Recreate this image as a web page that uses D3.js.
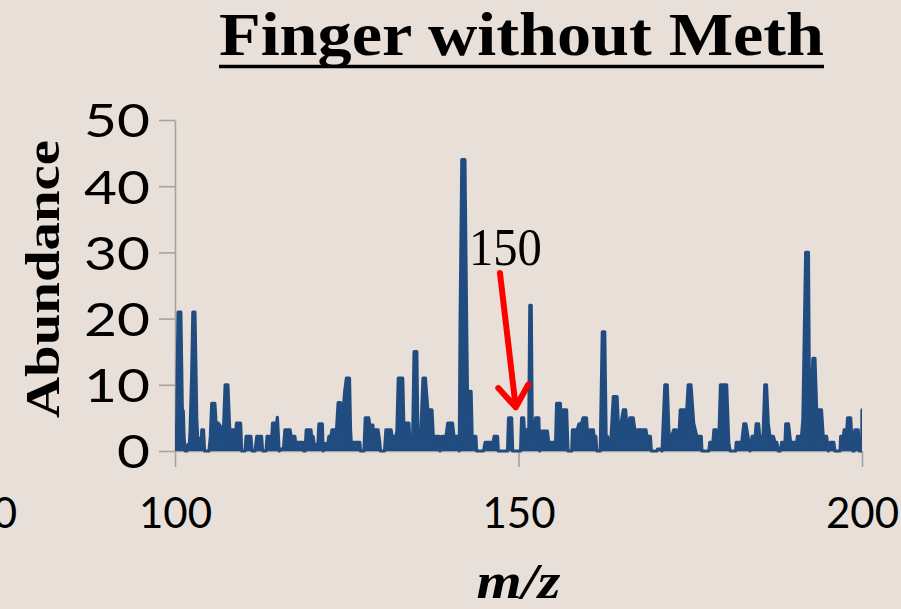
<!DOCTYPE html>
<html>
<head>
<meta charset="utf-8">
<script src="https://cdn.jsdelivr.net/npm/d3@7/dist/d3.min.js"></script>
<style>
  html, body { margin: 0; padding: 0; background: #e8e0d8; }
  svg { display: block; }
</style>
</head>
<body>
<div id="chart"></div>
<script>
'use strict';

/* Data */

var title = 'Finger without Meth'
var xLabel = 'm/z'
var yLabel = 'Abundance'

var xTicks = [100, 150, 200]
var yTicks = [0, 10, 20, 30, 40, 50]

// peak callout: label position and arrow, in data units (m/z, abundance)
var calloutText = '150'
var calloutLabel = [148.1, 28.1]
var calloutArrow = [[147.3, 26.9], [149.6, 6.6]]

// spectrum: [m/z, abundance]
var spectrum = [
  [100.00, 0.5], [100.05, 4], [100.25, 4], [100.33, 12], [100.45, 21], [100.85, 21], [100.98, 12],
  [101.06, 6.3], [101.21, 6], [101.31, 2.3], [101.46, 0], [101.75, 0], [101.89, 1], [102.05, 0.5],
  [102.18, 2.5], [102.43, 11.5], [102.6, 21], [102.9, 21], [103.01, 14.5], [103.16, 5], [103.3, 2],
  [103.4, 0.8], [103.5, 1.9], [103.7, 1.9], [103.8, 0.5], [103.9, 3.2], [104.15, 3.2], [104.3, 0],
  [104.95, 0], [105.15, 2.2], [105.35, 7.2], [105.8, 7.2], [105.95, 4.7], [106.1, 3], [106.3, 4.2],
  [106.5, 3.9], [106.8, 3.4], [107.0, 1.7], [107.3, 10], [107.7, 10], [107.9, 4.7], [108.1, 0.6],
  [108.3, 3.2], [108.55, 3.2], [108.75, 1.4], [108.95, 4.2], [109.55, 4.2], [109.7, 0],
  [110.2, 0], [110.35, 2.2], [111.05, 2.2], [111.2, 0], [111.65, 0], [111.9, 2.2], [112.6, 2.2],
  [112.75, 0], [113.25, 0], [113.4, 2.2], [114.1, 2.2], [114.2, 4.2], [114.8, 4.2], [114.9, 5.1],
  [115.05, 2.2], [115.15, 0], [115.8, 0.5], [116.0, 3.2], [116.75, 3.2], [116.9, 2.2], [117.45, 2.2],
  [117.55, 1.3], [118.6, 1.3], [118.75, 0], [118.95, 0], [119.1, 3.2], [119.45, 3.2], [119.8, 3.2],
  [119.95, 0.6], [120.1, 2.2], [120.25, 1], [120.8, 1], [120.95, 4.1], [121.45, 4.1], [121.55, 0],
  [121.85, 1.1], [122.25, 1.1], [122.4, 2.2], [122.7, 2.2], [122.85, 3.2], [123.25, 3.2], [123.45, 2.2],
  [123.75, 7.3], [124.1, 7.3], [124.3, 3.7], [124.7, 9], [124.95, 11], [125.4, 11], [125.55, 3.2],
  [125.65, 1.3], [126.9, 1.3], [127.0, 0], [127.5, 0], [127.7, 5], [128.2, 5], [128.35, 3.9],
  [128.8, 3.9], [128.95, 2.2], [129.15, 3.2], [129.55, 3.2], [129.8, 1.4], [129.9, 0], [130.5, 0],
  [130.7, 3.2], [131.45, 3.2], [131.6, 2.2], [132.15, 2.2], [132.3, 3], [132.5, 11], [133.15, 11],
  [133.3, 4.2], [134.05, 4.2], [134.15, 2.2], [134.6, 2.2], [134.8, 15], [135.2, 15], [135.35, 2.2],
  [135.5, 3.2], [135.8, 3.2], [136.1, 11], [136.45, 11], [136.8, 6.2], [137.4, 6.2], [137.6, 2.2],
  [138.45, 2.2], [138.57, 0], [138.85, 2.2], [139.45, 2.2], [139.7, 4.2], [140.4, 4.2], [140.6, 2.2],
  [141.15, 2.2], [141.38, 0], [141.5, 19], [141.75, 44], [142.2, 44], [142.45, 19], [142.6, 6],
  [142.75, 9], [143.1, 9], [143.25, 2.2], [143.8, 2.2], [143.9, 0], [144.9, 0], [145.15, 1.3],
  [146.3, 1.3], [146.45, 2.2], [146.95, 2.2], [147.05, 0], [148.4, 0], [148.55, 5], [149.0, 5],
  [149.15, 0], [150.3, 0], [150.45, 5], [150.75, 5], [150.85, 3.2], [151.5, 3.2], [151.65, 22],
  [151.85, 22], [152.0, 3], [152.15, 2.2], [152.5, 5], [152.95, 5], [153.1, 0], [153.4, 3],
  [154.2, 3], [154.4, 1.3], [155.4, 1.3], [155.55, 7.2], [156.1, 7.2], [156.25, 2.2], [156.5, 6.2],
  [157.0, 6.2], [157.2, 0], [157.75, 0], [157.85, 3.2], [158.55, 3.2], [158.8, 4.1], [159.15, 4.1],
  [159.4, 5], [159.9, 5], [160.05, 2.2], [160.25, 2.2], [160.4, 3.2], [160.9, 3.2], [161.0, 2.2],
  [161.25, 2.2], [161.4, 0], [161.9, 0], [162.2, 18], [162.55, 18], [162.75, 2.2], [162.95, 2.2],
  [163.4, 0.5], [163.8, 8.2], [164.35, 8.2], [164.6, 2.2], [165.25, 6.2], [165.6, 6.2], [165.85, 2.2],
  [166.2, 5], [166.7, 5], [167.05, 2.2], [167.3, 3.2], [168.55, 3.2], [168.7, 2.2], [169.2, 2.2],
  [169.33, 0], [170.15, 0], [170.25, 0.3], [170.7, 0.3], [170.9, 0], [171.3, 10], [171.65, 10],
  [171.95, 1.1], [172.25, 2.2], [172.6, 3.2], [172.95, 3.2], [173.1, 2.2], [173.35, 2.2], [173.55, 6.2],
  [174.2, 6.2], [174.3, 2.7], [174.7, 10], [175.1, 10], [175.5, 4.2], [175.95, 2.2], [176.6, 2.2],
  [176.7, 0], [177.7, 0], [177.85, 1.3], [178.3, 1.3], [178.45, 3.2], [178.75, 3.2], [178.9, 1.3],
  [179.15, 1.3], [179.4, 10], [180.3, 10], [180.6, 1.3], [180.8, 0], [181.6, 0], [181.7, 1.3],
  [182.5, 1.3], [182.8, 4.1], [183.1, 4.1], [183.4, 2.2], [183.7, 0], [184.0, 2.2], [184.45, 2.2],
  [184.6, 4.1], [184.95, 4.1], [185.1, 2.2], [185.6, 2.2], [185.85, 10], [186.1, 10], [186.35, 4.2],
  [186.6, 2.2], [187.1, 2.2], [187.35, 1.3], [187.6, 1.3], [187.8, 0], [188.1, 0], [188.3, 1.3],
  [188.8, 1.3], [188.9, 4.1], [189.3, 4.1], [189.6, 1.3], [190.0, 1.3], [190.5, 1.3], [190.6, 2.2],
  [191.2, 2.2], [191.4, 4.9], [191.8, 30], [192.2, 30], [192.35, 7], [192.45, 0.5], [192.6, 7],
  [192.85, 14], [193.15, 14], [193.4, 6.2], [194.1, 6.2], [194.35, 2.2], [194.85, 2.2], [195.1, 0],
  [195.4, 1.3], [195.9, 1.3], [196.05, 0], [196.8, 0], [196.9, 2.2], [197.3, 2.2], [197.4, 3.2],
  [197.8, 3.2], [197.9, 5], [198.35, 5], [198.5, 2.2], [198.65, 0], [198.85, 0], [198.95, 3.2],
  [199.45, 3.2], [199.6, 0], [199.95, 0], [200.0, 6.2]
]

/* Chart */

var width = 901
var height = 609

var svg = d3.select('#chart').append('svg')
  .attr('width', width)
  .attr('height', height)

svg.append('rect')
  .attr('width', width)
  .attr('height', height)
  .attr('fill', '#e8e0d8')

// Setup: scales
var x = d3.scaleLinear()
  .domain([100, 200])
  .range([175, 862])

var y = d3.scaleLinear()
  .domain([0, 50])
  .range([451, 120])

var axisColor = '#a3a3a3'
var lineColor = '#214c80'
var tickFont = 'Lato, "Open Sans", sans-serif'
var serif = '"Liberation Serif", "DejaVu Serif", serif'

// Axes
var xAxis = d3.axisBottom(x)
  .tickValues(xTicks)
  .tickSize(16)
  .tickSizeOuter(0)
  .tickFormat(d3.format('d'))

var yAxis = d3.axisLeft(y)
  .tickValues(yTicks)
  .tickSize(16)
  .tickSizeOuter(0)
  .tickFormat(d3.format('d'))

var gx = svg.append('g')
  .attr('class', 'axis axis--x')
  .attr('transform', 'translate(0,' + y(0) + ')')
  .call(xAxis)

var gy = svg.append('g')
  .attr('class', 'axis axis--y')
  .attr('transform', 'translate(' + x(100) + ',0)')
  .call(yAxis)

svg.selectAll('.axis .domain')
  .attr('stroke', axisColor)
  .attr('stroke-width', 1.6)

svg.selectAll('.axis .tick line')
  .attr('stroke', axisColor)
  .attr('stroke-width', 1.6)

gx.selectAll('.tick text')
  .attr('fill', '#000')
  .attr('dy', null)
  .attr('y', 77)
  .style('font-family', tickFont)
  .style('font-size', '42px')

// y labels come out a bit larger and wider than the x ones
gy.selectAll('.tick text')
  .attr('fill', '#000')
  .attr('x', -25)
  .attr('dy', '0.36em')
  .attr('textLength', function(d) { return String(d).length * 33 })
  .attr('lengthAdjust', 'spacingAndGlyphs')
  .style('font-family', tickFont)
  .style('font-size', '47px')

// stray label of the neighbouring axis, cut by the left edge
svg.append('text')
  .attr('x', 17)
  .attr('y', y(0) + 77)
  .attr('text-anchor', 'end')
  .style('font-family', tickFont)
  .style('font-size', '42px')
  .text('50')

// Spectrum: dense trace, drawn as filled area plus outline
svg.append('clipPath')
  .attr('id', 'plot-clip')
  .append('rect')
  .attr('x', x(100))
  .attr('y', 0)
  .attr('width', x(200) - x(100))
  .attr('height', height)

var area = d3.area()
  .x(function(d) { return x(d[0]) })
  .y0(y(0))
  .y1(function(d) { return y(d[1]) })

var line = d3.line()
  .x(function(d) { return x(d[0]) })
  .y(function(d) { return y(d[1]) })

var plot = svg.append('g')
  .attr('clip-path', 'url(#plot-clip)')

plot.append('path')
  .datum(spectrum)
  .attr('fill', lineColor)
  .attr('d', area)

plot.append('path')
  .datum(spectrum)
  .attr('fill', 'none')
  .attr('stroke', lineColor)
  .attr('stroke-width', 3.2)
  .attr('stroke-linejoin', 'round')
  .attr('stroke-linecap', 'round')
  .attr('d', line)

// Title, underlined
svg.append('text')
  .attr('x', 219)
  .attr('y', 55)
  .attr('textLength', 605)
  .attr('lengthAdjust', 'spacingAndGlyphs')
  .style('font-family', serif)
  .style('font-weight', 'bold')
  .style('font-size', '62px')
  .text(title)

svg.append('line')
  .attr('x1', 219)
  .attr('x2', 824)
  .attr('y1', 66.5)
  .attr('y2', 66.5)
  .attr('stroke', '#000')
  .attr('stroke-width', 3.5)

// Axis titles
svg.append('text')
  .attr('transform', 'translate(59,279) rotate(-90)')
  .attr('text-anchor', 'middle')
  .attr('textLength', 278)
  .attr('lengthAdjust', 'spacingAndGlyphs')
  .style('font-family', serif)
  .style('font-weight', 'bold')
  .style('font-size', '48px')
  .text(yLabel)

svg.append('text')
  .attr('x', x(150))
  .attr('y', 598)
  .attr('text-anchor', 'middle')
  .attr('textLength', 84)
  .attr('lengthAdjust', 'spacingAndGlyphs')
  .style('font-family', serif)
  .style('font-weight', 'bold')
  .style('font-style', 'italic')
  .style('font-size', '50px')
  .text(xLabel)

// Callout
svg.append('text')
  .attr('x', x(calloutLabel[0]))
  .attr('y', y(calloutLabel[1]))
  .attr('text-anchor', 'middle')
  .attr('textLength', 73)
  .attr('lengthAdjust', 'spacingAndGlyphs')
  .style('font-family', serif)
  .style('font-size', '52px')
  .text(calloutText)

var ax0 = x(calloutArrow[0][0]), ay0 = y(calloutArrow[0][1])
var ax1 = x(calloutArrow[1][0]), ay1 = y(calloutArrow[1][1])
var ang = Math.atan2(ay1 - ay0, ax1 - ax0)
var head = 26, spread = 0.62

svg.append('path')
  .attr('fill', 'none')
  .attr('stroke', '#ff0000')
  .attr('stroke-width', 6)
  .attr('stroke-linecap', 'round')
  .attr('stroke-linejoin', 'round')
  .attr('d', 'M' + ax0 + ',' + ay0 + 'L' + ax1 + ',' + ay1
    + 'M' + (ax1 - head * Math.cos(ang - spread)) + ',' + (ay1 - head * Math.sin(ang - spread))
    + 'L' + ax1 + ',' + ay1
    + 'L' + (ax1 - head * Math.cos(ang + spread)) + ',' + (ay1 - head * Math.sin(ang + spread)))
</script>
</body>
</html>
